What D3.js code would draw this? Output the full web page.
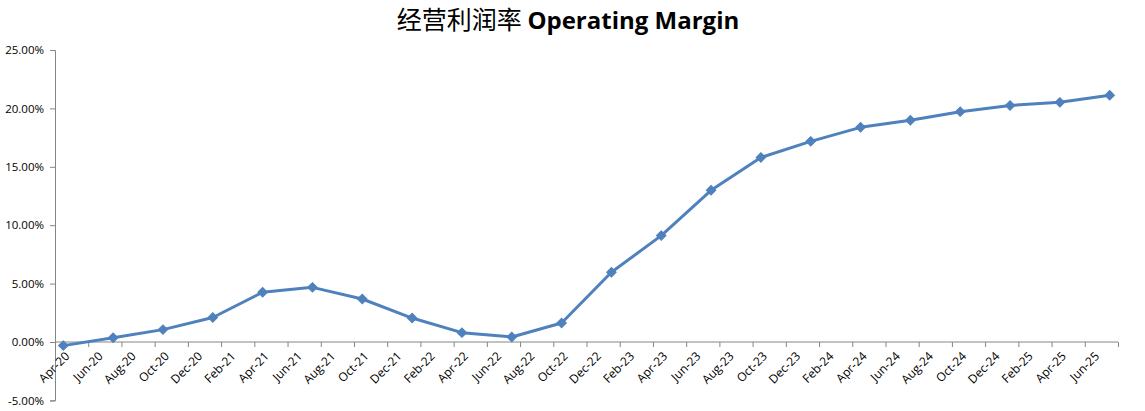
<!DOCTYPE html>
<html>
<head>
<meta charset="utf-8">
<script src="https://cdn.jsdelivr.net/npm/d3@7"></script>
<style>
html,body{margin:0;padding:0;background:#fff;}
svg{display:block;}
</style>
</head>
<body>
<svg id="chart" width="1145" height="411"></svg>
<script>
// Month index 0 = Apr-20
const monthNames = ["Jan","Feb","Mar","Apr","May","Jun","Jul","Aug","Sep","Oct","Nov","Dec"];
const startYear = 2020, startMonth = 3; // Apr 2020
const totalMonths = 64; // Apr-20 .. Jul-25
const pointMonths = [0,3,6,9,12,15,18,21,24,27,30,33,36,39,42,45,48,51,54,57,60,63];
const margins = [-0.31,0.37,1.06,2.1,4.26,4.68,3.68,2.05,0.8,0.43,1.63,5.97,9.11,12.99,15.8,17.18,18.38,18.98,19.72,20.25,20.52,21.12];
const yTicks = [-5,0,5,10,15,20,25];
const titleCN = "经营利润率";
const titleEN = "Operating Margin";

function monthLabel(i){
  const m = (startMonth + i) % 12;
  const y = startYear + Math.floor((startMonth + i) / 12);
  return monthNames[m] + "-" + String(y % 100).padStart(2,"0");
}

const svg = d3.select("#chart");
const x = d3.scaleLinear().domain([0, totalMonths]).range([55, 1118]);
const y = d3.scaleLinear().domain([-5, 25]).range([400.4, 50]);
const axisColor = "#868686";

// Title
const title = svg.append("text").attr("x", 568).attr("y", 29).attr("text-anchor","middle");
title.append("tspan").attr("font-family","'Noto Sans CJK SC'").attr("font-size",25).attr("fill","#000").text(titleCN + " ");
title.append("tspan").attr("font-family","'Open Sans', sans-serif").attr("font-weight","bold").attr("font-size",24).attr("fill","#000").text(titleEN);

// Y axis
const yAxis = d3.axisLeft(y).tickValues(yTicks).tickSize(5).tickPadding(6)
  .tickFormat(d => d.toFixed(2) + "%");
const gy = svg.append("g").attr("transform", `translate(${x(0)},0)`).call(yAxis);
gy.select(".domain").attr("stroke", axisColor);
gy.selectAll(".tick line").attr("stroke", axisColor);
gy.selectAll(".tick text").attr("font-family","'Open Sans', sans-serif").attr("font-size",11.5).attr("fill","#000");

// X axis at 0%
const tickMonths = d3.range(0, totalMonths + 1, 2);
const xAxis = d3.axisBottom(x).tickValues(tickMonths).tickSize(5).tickFormat("");
const gx = svg.append("g").attr("transform", `translate(0,${y(0)})`).call(xAxis);
gx.select(".domain").attr("stroke", axisColor).attr("d", `M${x(0)},0H${x(totalMonths)}`);
gx.selectAll(".tick line").attr("stroke", axisColor);

// X labels
const labelMonths = d3.range(0, totalMonths, 2);
svg.append("g").selectAll("text").data(labelMonths).join("text")
  .attr("transform", d => `translate(${x(d + 0.5) + 4},${y(0) + 12}) rotate(-45)`)
  .attr("text-anchor","end")
  .attr("dy","0.35em")
  .attr("font-family","'Open Sans', sans-serif")
  .attr("font-size",12)
  .attr("fill","#000")
  .text(d => monthLabel(d));

// Line
const data = pointMonths.map((m,i) => ({m, v: margins[i]}));
const lineColor = "#4F81BD";
svg.append("path").datum(data)
  .attr("fill","none").attr("stroke", lineColor).attr("stroke-width",3).attr("stroke-linejoin","round")
  .attr("d", d3.line().x(d => x(d.m + 0.5)).y(d => y(d.v)));

// Markers (square rotated 45deg = Excel diamond)
const diamond = d3.symbol().type(d3.symbolSquare).size(45);
svg.append("g").selectAll("path").data(data).join("path")
  .attr("transform", d => `translate(${x(d.m + 0.5)},${y(d.v)}) rotate(45)`)
  .attr("d", diamond)
  .attr("fill", lineColor).attr("stroke", lineColor).attr("stroke-width",1);
</script>
</body>
</html>
